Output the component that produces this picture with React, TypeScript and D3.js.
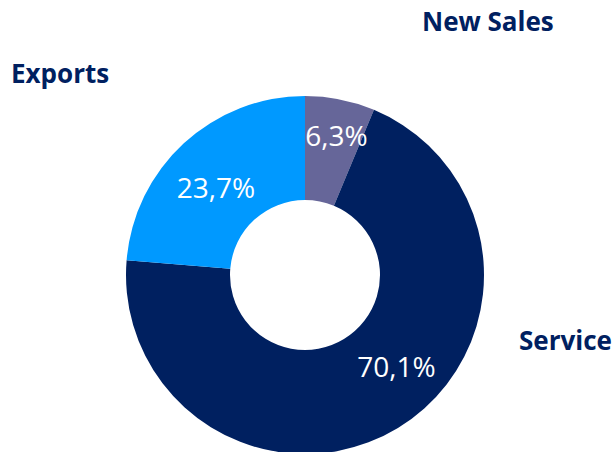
import React from "react";
import * as d3 from "d3";

// chart data
const categories = ["New Sales", "Service", "Exports"];
const shares = [6.3, 70.1, 23.7];
const colors = ["#666699", "#002060", "#0099FF"];

// where the category names and percentages sit (Excel-style placement)
const nameSpots = [
  { x: 422, y: 31 },
  { x: 519, y: 350 },
  { x: 11, y: 83 },
];
const pctNudge = [
  { dx: 6, dy: -12 },
  { dx: 24, dy: -19 },
  { dx: -1, dy: 9 },
];

const width = 614;
const height = 452;
const cx = 305;
const cy = 275;
const outerR = 179;
const innerR = 75;

const fmtLocale = d3.formatLocale({
  decimal: ",",
  thousands: ".",
  grouping: [3],
  currency: ["", "€"],
});
const fmt = fmtLocale.format(".1f");

export default function App() {
  const rows = categories.map((c, i) => ({ name: c, value: shares[i], i }));

  const pie = d3
    .pie<any>()
    .value((d) => d.value)
    .sort(null)
    .startAngle(0)
    .endAngle(2 * Math.PI);

  const arcs = pie(rows);
  const arc = d3.arc<any>().innerRadius(innerR).outerRadius(outerR);
  const labelArc = d3.arc<any>().innerRadius(130).outerRadius(130);

  return (
    <svg
      width={width}
      height={height}
      style={{ position: "absolute", left: 0, top: 0, background: "#fff" }}
      fontFamily="'Open Sans', sans-serif"
    >
      <g transform={`translate(${cx},${cy})`}>
        {arcs.map((a, i) => (
          <path key={i} d={arc(a) as string} fill={colors[i]} />
        ))}
        {arcs.map((a, i) => {
          const [x, y] = labelArc.centroid(a);
          return (
            <text
              key={"p" + i}
              x={x + pctNudge[i].dx}
              y={y + pctNudge[i].dy + 10}
              textAnchor="middle"
              fill="#fff"
              fontSize={28}
            >
              {fmt(a.data.value) + "%"}
            </text>
          );
        })}
      </g>
      {categories.map((c, i) => (
        <text
          key={"n" + i}
          x={nameSpots[i].x}
          y={nameSpots[i].y}
          fill="#002060"
          fontSize={26}
          fontWeight="bold"
        >
          {c}
        </text>
      ))}
    </svg>
  );
}
